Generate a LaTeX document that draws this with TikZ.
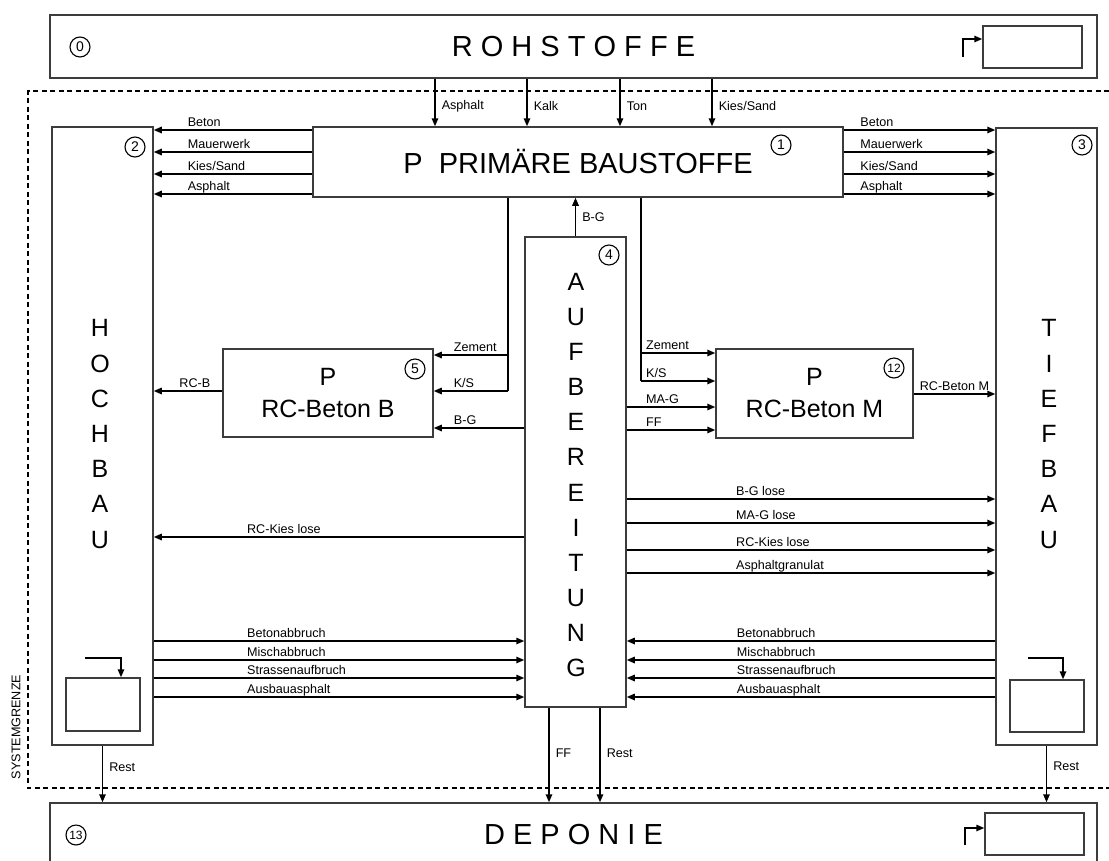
\documentclass[tikz,border=0pt]{standalone}
\usepackage{fontspec}
\setmainfont{Liberation Sans}
\usetikzlibrary{arrows.meta,positioning}
\definecolor{boxgray}{RGB}{60,60,60}

\begin{document}
\begin{tikzpicture}[
    x=1pt,y=-1pt,
    bigbox/.style={rectangle,draw=boxgray,line width=1.5pt,inner sep=0pt},
    smallbox/.style={rectangle,draw=boxgray,line width=1.5pt},
    arrow/.style={-{Triangle[length=8pt,width=6.5pt]},line width=1.5pt},
    plain/.style={line width=1.5pt},
    lbl/.style={font=\fontsize{12.6}{14}\selectfont,inner sep=0pt},
    tag/.style={lbl,anchor=base west,yshift=4pt},
    side/.style={lbl,anchor=west,xshift=6pt},
    numc/.style={circle,draw,line width=1.1pt,minimum size=20pt,inner sep=0pt,font=\fontsize{14}{14}\selectfont},
    title/.style={font=\fontsize{29}{30}\selectfont},
    column/.style={align=center,font=\fontsize{25}{35.2}\selectfont},
    procbox/.style={bigbox,align=center,font=\fontsize{25}{32}\selectfont}
  ]
  \useasboundingbox (0,0) rectangle (1109,860);

  % system boundary
  \draw[line width=1.3pt,dash pattern=on 5pt off 3.5pt] (1109,91) -- (28,91) -- (28,788) -- (1109,788);
  \node[lbl,rotate=90] (sysgr) at (16,727) {SYSTEMGRENZE};

  % boxes
  \node[bigbox,title,minimum width=1047pt,minimum height=63pt] (rohstoffe) at (573.5,46.5) {R O H S T O F F E};
  \node[bigbox,title,minimum width=1047pt,minimum height=63pt] (deponie) at (573.5,834.5) {D E P O N I E};
  \node[bigbox,font=\fontsize{29}{30}\selectfont,minimum width=530pt,minimum height=70pt] (primaer) at (578,162) {P\ \ PRIMÄRE BAUSTOFFE};
  \node[bigbox,minimum width=101pt,minimum height=618pt] (hochbau) at (102.5,436) {};
  \node[bigbox,minimum width=101pt,minimum height=617pt] (tiefbau) at (1046.5,436.5) {};
  \node[bigbox,minimum width=101pt,minimum height=470pt] (aufb) at (575.5,472) {};
  \node[procbox,minimum width=210pt,minimum height=88pt] (rcbb) at (328,393) {P\\RC-Beton B};
  \node[procbox,minimum width=197pt,minimum height=89pt] (rcbm) at (814.5,393.5) {P\\RC-Beton M};

  \node[column] (hochtxt) at (100,434) {H\\O\\C\\H\\B\\A\\U};
  \node[column] (tieftxt) at (1049,434) {T\\I\\E\\F\\B\\A\\U};
  \node[column,font=\fontsize{25}{35.1}\selectfont] (aufbtxt) at (576,475) {A\\U\\F\\B\\E\\R\\E\\I\\T\\U\\N\\G};

  % stock boxes
  \node[smallbox,minimum width=99pt,minimum height=42pt] (rbox) at (1032.5,47) {};
  \node[smallbox,minimum width=99pt,minimum height=42pt] (dbox) at (1034.5,834) {};
  \node[smallbox,minimum width=74pt,minimum height=53pt] (hbox) at (103,704.5) {};
  \node[smallbox,minimum width=74pt,minimum height=52pt] (tbox) at (1047,706) {};

  % numbers
  \node[numc] (n0) at (80,47) {0};
  \node[numc] (n1) at (781,145) {1};
  \node[numc] (n2) at (135,147) {2};
  \node[numc] (n3) at (1082,145) {3};
  \node[numc] (n4) at (609,255) {4};
  \node[numc] (n5) at (415,369) {5};
  \node[numc,font=\fontsize{12}{12}\selectfont] (n12) at (894,368) {12};
  \node[numc,font=\fontsize{12}{12}\selectfont] (n13) at (76,835) {13};

  % raw materials
  \foreach \x/\t in {435/Asphalt,527/Kalk,620/Ton,712/{Kies/Sand}}
    \draw[arrow] (rohstoffe.south -| \x,0) -- (primaer.north -| \x,0) node[side,pos=0.57] {\t};

  % primary materials
  \foreach \y/\t in {130/Beton,152/Mauerwerk,174/{Kies/Sand},194/Asphalt} {
    \draw[arrow] (primaer.west |- 0,\y) -- (hochbau.east |- 0,\y) node[tag,pos=0.79] {\t};
    \draw[arrow] (primaer.east |- 0,\y) -- (tiefbau.west |- 0,\y) node[tag,pos=0.105] {\t};
  }

  % cement and sand to RC plants
  \coordinate (zemL) at (primaer.south -| 508,0);
  \coordinate (zemR) at (primaer.south -| 641,0);
  \draw[plain] (zemL) -- (zemL |- 0,391);
  \draw[plain] (zemR) -- (zemR |- 0,381);
  \foreach \y/\t in {355/Zement,391/{K/S}}
    \draw[arrow] (zemL |- 0,\y) -- (rcbb.east |- 0,\y) node[tag,pos=0.74] {\t};
  \foreach \y/\t in {353/Zement,381/{K/S}}
    \draw[arrow] (zemR |- 0,\y) -- (rcbm.west |- 0,\y) node[tag,pos=0.06] {\t};
  \draw[arrow] (aufb.west |- 0,428) -- (rcbb.east |- 0,428) node[tag,pos=0.785] {B-G};
  \foreach \y/\t in {407/MA-G,430/FF}
    \draw[arrow] (aufb.east |- 0,\y) -- (rcbm.west |- 0,\y) node[tag,pos=0.21] {\t};

  \draw[arrow] (aufb.north) -- (primaer.south -| aufb.north) node[side,midway] {B-G};
  \draw[arrow] (rcbb.west |- 0,391) -- (hochbau.east |- 0,391) node[lbl,anchor=base,yshift=4pt,pos=0.4] {RC-B};
  \draw[arrow] (rcbm.east |- 0,394) -- (tiefbau.west |- 0,394) node[lbl,anchor=base,yshift=4pt,midway] {RC-Beton M};

  % recycled products
  \foreach \y/\t in {499/B-G lose,523/MA-G lose,550/RC-Kies lose,573/Asphaltgranulat}
    \draw[arrow] (aufb.east |- 0,\y) -- (tiefbau.west |- 0,\y) node[tag,pos=0.295] {\t};
  \draw[arrow] (aufb.west |- 0,537) -- (hochbau.east |- 0,537) node[tag,pos=0.75] {RC-Kies lose};

  % demolition waste
  \foreach \y/\t in {641/Betonabbruch,660/Mischabbruch,678/Strassenaufbruch,697/Ausbauasphalt} {
    \draw[arrow] (hochbau.east |- 0,\y) -- (aufb.west |- 0,\y) node[tag,pos=0.25] {\t};
    \draw[arrow] (tiefbau.west |- 0,\y) -- (aufb.east |- 0,\y) node[tag,pos=0.703] {\t};
  }

  % landfill
  \draw[arrow] (hochbau.south) -- (deponie.north -| hochbau.south) node[side,pos=0.38] {Rest};
  \draw[arrow] (tiefbau.south) -- (deponie.north -| tiefbau.south) node[side,pos=0.36] {Rest};
  \draw[arrow] (aufb.south -| 549,0) -- (deponie.north -| 549,0) node[side,pos=0.48] {FF};
  \draw[arrow] (aufb.south -| 600,0) -- (deponie.north -| 600,0) node[side,pos=0.48] {Rest};

  % stock changes
  \coordinate (rin) at (963,57);
  \coordinate (din) at (965,845);
  \coordinate (hin) at (85,658);
  \coordinate (tin) at (1028,658);
  \draw[arrow] (rin) |- (rbox.west |- 0,39);
  \draw[arrow] (din) |- (dbox.west |- 0,828);
  \draw[arrow] (hin) -| (hbox.north -| 121,0);
  \draw[arrow] (tin) -| (tbox.north -| 1063,0);
\end{tikzpicture}
\end{document}
